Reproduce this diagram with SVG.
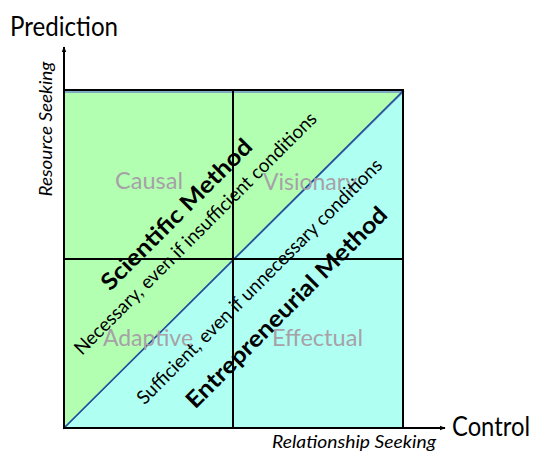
<svg xmlns="http://www.w3.org/2000/svg" width="550" height="466" viewBox="0 0 550 466">
<defs>
<marker id="ah" viewBox="0 0 10 10" refX="9" refY="5" markerWidth="6" markerHeight="6" orient="auto" markerUnits="userSpaceOnUse">
<path d="M0,1 L10,5 L0,9 z" fill="#000"/>
</marker>
<style>
text{font-family:Lato,"Open Sans","Liberation Sans",sans-serif;}
.q{fill:#a7a1a7;font-size:23px;}
.b{font-weight:bold;font-size:23px;fill:#000;}
.r{font-size:19px;fill:#000;}
.i{font-style:italic;font-size:17.5px;fill:#000;}
.big{font-size:26px;fill:#000;}
.grid{stroke:#000;stroke-width:2;fill:none;}
</style>
</defs>
<rect width="550" height="466" fill="#fff"/>
<g id="regions">
<polygon points="64,91 403,91 403,428 64,428" fill="#b0fff3"/>
<polygon points="64,92 403,92 64,428" fill="#b2ffb2" stroke="#6f8fc0" stroke-width="1.5"/>
<line x1="64" y1="428" x2="403" y2="91" stroke="#1f4e9a" stroke-width="1.5"/>
</g>
<g id="grid">
<rect x="64" y="90" width="339" height="338" class="grid"/>
<line x1="233" y1="90" x2="233" y2="428" class="grid"/>
<line x1="64" y1="259" x2="403" y2="259" class="grid"/>
</g>
<g id="connectors">
<line x1="64" y1="429" x2="64" y2="47" stroke="#000" stroke-width="2" marker-end="url(#ah)"/>
<line x1="63" y1="428" x2="445" y2="428" stroke="#000" stroke-width="2" marker-end="url(#ah)"/>
</g>
<g id="quadrant-labels">
<text class="q" x="115" y="189" textLength="68" lengthAdjust="spacingAndGlyphs">Causal</text>
<text class="q" x="263" y="190" textLength="94" lengthAdjust="spacingAndGlyphs">Visionary</text>
<text class="q" x="103" y="346" textLength="90" lengthAdjust="spacingAndGlyphs">Adaptive</text>
<text class="q" x="272" y="346" textLength="91" lengthAdjust="spacingAndGlyphs">Effectual</text>
</g>
<g id="scientific">
<text class="b" transform="translate(182,220) rotate(-45)" text-anchor="middle" textLength="203" lengthAdjust="spacingAndGlyphs">Scientific Method</text>
<text class="r" transform="translate(200,238) rotate(-45)" text-anchor="middle" textLength="334" lengthAdjust="spacingAndGlyphs">Necessary, even if insufficient conditions</text>
</g>
<g id="entrepreneurial">
<text class="r" transform="translate(264,286) rotate(-45)" text-anchor="middle" textLength="338" lengthAdjust="spacingAndGlyphs">Sufficient, even if unnecessary conditions</text>
<text class="b" transform="translate(292,313) rotate(-45)" text-anchor="middle" textLength="274" lengthAdjust="spacingAndGlyphs">Entrepreneurial Method</text>
</g>
<g id="axis-labels">
<text class="big" x="10" y="36" textLength="108" lengthAdjust="spacingAndGlyphs">Prediction</text>
<text class="big" x="452" y="436" textLength="78" lengthAdjust="spacingAndGlyphs">Control</text>
<text class="i" transform="translate(52,129) rotate(-90)" text-anchor="middle" textLength="135" lengthAdjust="spacingAndGlyphs">Resource Seeking</text>
<text class="i" x="272" y="448" textLength="164" lengthAdjust="spacingAndGlyphs">Relationship Seeking</text>
</g>
</svg>
